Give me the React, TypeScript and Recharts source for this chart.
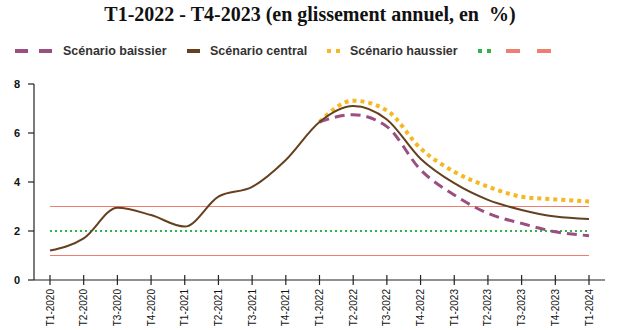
import React from 'react';
import { LineChart, Line, XAxis, YAxis } from 'recharts';

const quarters = [
  'T1-2020', 'T2-2020', 'T3-2020', 'T4-2020',
  'T1-2021', 'T2-2021', 'T3-2021', 'T4-2021',
  'T1-2022', 'T2-2022', 'T3-2022', 'T4-2022',
  'T1-2023', 'T2-2023', 'T3-2023', 'T4-2023',
  'T1-2024',
];

const central = [1.2, 1.7, 2.95, 2.65, 2.18, 3.4, 3.8, 4.9, 6.45, 7.1, 6.55, 4.95, 3.95, 3.27, 2.86, 2.59, 2.49];
const baissier = [null, null, null, null, null, null, null, null, 6.45, 6.75, 6.26, 4.5, 3.47, 2.72, 2.31, 1.97, 1.81];
const haussier = [null, null, null, null, null, null, null, null, 6.45, 7.32, 6.92, 5.37, 4.42, 3.81, 3.4, 3.29, 3.2];
const cible = 2;
const borneHaute = 3;
const borneBasse = 1;

const yTicks = [0, 2, 4, 6, 8];

const data = quarters.map((q, i) => ({
  q,
  central: central[i],
  baissier: baissier[i],
  haussier: haussier[i],
  cible,
  haute: borneHaute,
  basse: borneBasse,
}));

const COLORS = {
  baissier: '#9a4f80',
  central: '#65401f',
  haussier: '#f6b822',
  cible: '#2fb44c',
  bornes: '#ee7f70',
};

const font = 'Arial, "Liberation Sans", sans-serif';

const XTick = (props: any) => {
  const { x, y, payload } = props;
  return (
    <g>
      <line x1={x} x2={x} y1={y - 5} y2={y + 5} stroke="#222" strokeWidth={1.2} />
      <text
        transform={`translate(${x + 3.5}, ${y + 9}) rotate(-90)`}
        textAnchor="end"
        fontSize={10}
        fontFamily={font}
        fill="#111"
      >
        {payload.value}
      </text>
    </g>
  );
};

const LegendRow = () => {
  const item = (icon: React.ReactNode, label: string, left: number) => (
    <div style={{ position: 'absolute', left, top: 0, display: 'flex', alignItems: 'center', height: 14 }}>
      {icon}
      {label && (
        <span style={{ marginLeft: 10, fontSize: 12.5, fontWeight: 'bold', color: '#333', fontFamily: font }}>
          {label}
        </span>
      )}
    </div>
  );
  return (
    <div style={{ position: 'absolute', left: 0, top: 44, width: 620, height: 14 }}>
      {item(
        <svg width={38} height={6}>
          <line x1={0} x2={38} y1={3} y2={3} stroke={COLORS.baissier} strokeWidth={4} strokeDasharray="13 11" />
        </svg>,
        'Scénario baissier',
        15
      )}
      {item(
        <svg width={13} height={6}>
          <line x1={0} x2={13} y1={3} y2={3} stroke={COLORS.central} strokeWidth={4} />
        </svg>,
        'Scénario central',
        187
      )}
      {item(
        <svg width={13} height={6}>
          <line x1={0} x2={13} y1={3} y2={3} stroke={COLORS.haussier} strokeWidth={4} strokeDasharray="4 5" />
        </svg>,
        'Scénario haussier',
        327
      )}
      {item(
        <svg width={13} height={6}>
          <line x1={0} x2={13} y1={3} y2={3} stroke={COLORS.cible} strokeWidth={4} strokeDasharray="4 5" />
        </svg>,
        '',
        478
      )}
      {item(
        <svg width={50} height={6}>
          <line x1={0} x2={50} y1={3} y2={3} stroke={COLORS.bornes} strokeWidth={4} strokeDasharray="14 17" />
        </svg>,
        '',
        506
      )}
    </div>
  );
};

export default function App() {
  return (
    <div style={{ position: 'absolute', left: 0, top: 0, width: 620, height: 330, background: '#fff' }}>
      <div
        style={{
          position: 'absolute',
          left: 0,
          top: 3,
          width: 620,
          textAlign: 'center',
          fontFamily: '"Liberation Serif", "Times New Roman", serif',
          fontWeight: 'bold',
          fontSize: 20,
          color: '#111',
        }}
      >
        T1-2022 - T4-2023 (en glissement annuel, en&nbsp; %)
      </div>
      <LegendRow />
      <LineChart
        width={620}
        height={330}
        data={data}
        margin={{ top: 84, right: 15, bottom: 0, left: 0 }}
      >
        <XAxis
          dataKey="q"
          interval={0}
          height={50}
          padding={{ left: 16, right: 16 }}
          tickLine={false}
          tickSize={0}
          tickMargin={0}
          tick={<XTick />}
          axisLine={{ stroke: '#222', strokeWidth: 1.2 }}
        />
        <YAxis
          width={34}
          domain={[0, 8]}
          ticks={yTicks}
          tickSize={6}
          tickMargin={8}
          axisLine={{ stroke: '#222', strokeWidth: 1.2 }}
          tickLine={{ stroke: '#222', strokeWidth: 1.2 }}
          tick={{ fontSize: 11, fontWeight: 'bold', fill: '#111', fontFamily: font }}
        />
        <Line dataKey="haute" stroke={COLORS.bornes} strokeWidth={1.2} dot={false} isAnimationActive={false} />
        <Line dataKey="basse" stroke={COLORS.bornes} strokeWidth={1.2} dot={false} isAnimationActive={false} />
        <Line
          dataKey="cible"
          stroke={COLORS.cible}
          strokeWidth={2}
          strokeDasharray="2 3"
          dot={false}
          isAnimationActive={false}
        />
        <Line
          type="monotone"
          dataKey="haussier"
          stroke={COLORS.haussier}
          strokeWidth={4}
          strokeDasharray="4 4"
          dot={false}
          isAnimationActive={false}
        />
        <Line
          type="monotone"
          dataKey="baissier"
          stroke={COLORS.baissier}
          strokeWidth={3}
          strokeDasharray="10 6"
          dot={false}
          isAnimationActive={false}
        />
        <Line
          type="monotone"
          dataKey="central"
          stroke={COLORS.central}
          strokeWidth={2}
          dot={false}
          isAnimationActive={false}
        />
      </LineChart>
    </div>
  );
}
